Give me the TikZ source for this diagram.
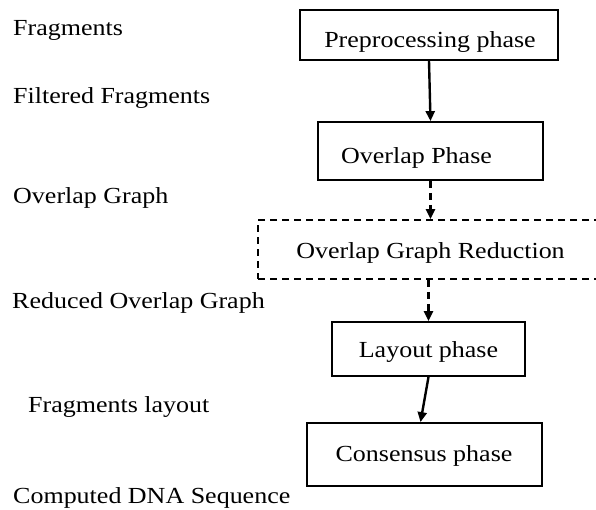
\documentclass[tikz,border=0pt]{standalone}
\usepackage{fontspec}
\setmainfont{Liberation Serif}[FakeStretch=1.13]
\usetikzlibrary{arrows.meta}
\begin{document}
\begin{tikzpicture}[x=1pt,y=-1pt,
  every node/.style={font=\fontsize{23}{27}\selectfont, inner sep=0pt},
  lbl/.style={anchor=base west},
  box/.style={draw, line width=1.8pt, rectangle},
  dbox/.style={draw, line width=1.8pt, dash pattern=on 7pt off 5pt, rectangle},
  arr/.style={line width=2.4pt, -{Triangle[length=10pt,width=9pt]}},
  darr/.style={arr, dash pattern=on 7pt off 5pt}]
\useasboundingbox (0,0) rectangle (596,509);
% left labels
\node[lbl] (l1) at (13,35) {Fragments};
\node[lbl] (l2) at (13,103) {Filtered Fragments};
\node[lbl] (l3) at (13,203) {Overlap Graph};
\node[lbl] (l4) at (12,308) {Reduced Overlap Graph};
\node[lbl] (l5) at (28,412) {Fragments layout};
\node[lbl] (l6) at (13,503) {Computed DNA Sequence};
% boxes
\node[box, minimum width=258pt, minimum height=50pt] (b1) at (429,35) {};
\node[anchor=base] (t1) at (430,47) {Preprocessing phase};
\node[box, minimum width=225pt, minimum height=58pt] (b2) at (430.5,151) {};
\node[anchor=base] (t2) at (416.5,163) {Overlap Phase};
\node[dbox, minimum width=346pt, minimum height=59pt] (b3) at (431,249.5) {};
\node[anchor=base] (t3) at (430.5,258) {Overlap Graph Reduction};
\node[box, minimum width=193pt, minimum height=54pt] (b4) at (428.5,349) {};
\node[anchor=base] (t4) at (428.5,357) {Layout phase};
\node[box, minimum width=235pt, minimum height=63pt] (b5) at (424.5,454.5) {};
\node[anchor=base] (t5) at (424,461) {Consensus phase};
% connectors
\draw[arr] (b1.south) -- (b2.north);
\draw[darr] (b2.south) -- (b3.north -| b2.south);
\draw[darr] (b3.south -| b4.north) -- (b4.north);
\draw[arr] (b4.south) -- ([xshift=-4pt]b5.north);
\end{tikzpicture}
\end{document}
